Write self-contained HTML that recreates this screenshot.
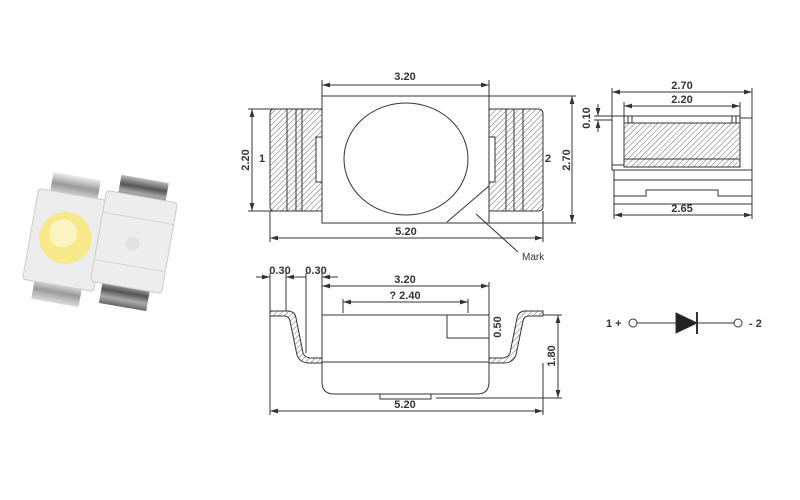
<!DOCTYPE html>
<html><head><style>body{margin:0;background:#fff}svg{display:block}text{font-family:"Liberation Sans",sans-serif;fill:#333}</style></head><body>
<svg width="800" height="500" viewBox="0 0 800 500" xmlns="http://www.w3.org/2000/svg">
<defs>
<pattern id="h" width="4" height="4" patternUnits="userSpaceOnUse" patternTransform="rotate(45)"><rect width="4" height="4" fill="#fff"/><line x1="0" y1="0" x2="0" y2="4" stroke="#666" stroke-width="1"/></pattern>
<marker id="a" viewBox="0 0 10 6" refX="10" refY="3" markerWidth="8" markerHeight="5" orient="auto-start-reverse"><path d="M0,0L10,3L0,6z" fill="#333"/></marker>
<linearGradient id="m" x1="0" x2="0" y1="0" y2="1"><stop offset="0" stop-color="#eee"/><stop offset=".5" stop-color="#999"/><stop offset="1" stop-color="#ddd"/></linearGradient>
<linearGradient id="m2" x1="0" x2="0" y1="0" y2="1"><stop offset="0" stop-color="#bbb"/><stop offset=".4" stop-color="#555"/><stop offset=".7" stop-color="#aaa"/><stop offset="1" stop-color="#666"/></linearGradient>
</defs>
<!-- photos -->
<g transform="rotate(10 66 240)">
<rect x="42" y="175" width="48" height="22" fill="url(#m)"/>
<rect x="42" y="282" width="48" height="22" fill="url(#m)"/>
<rect x="30" y="194" width="72" height="92" rx="3" fill="#ececec" stroke="#ccc"/>
<circle cx="65" cy="238" r="26" fill="#f7e98a"/>
<circle cx="62" cy="234" r="14" fill="#fbf3c0"/>
</g>
<g transform="rotate(10 134 242)">
<rect x="110" y="178" width="48" height="22" fill="url(#m2)"/>
<rect x="110" y="284" width="48" height="24" fill="url(#m2)"/>
<rect x="98" y="196" width="72" height="92" rx="3" fill="#ededed" stroke="#ccc"/>
<line x1="98" y1="218" x2="170" y2="218" stroke="#d5d5d5"/>
<line x1="98" y1="266" x2="170" y2="266" stroke="#d5d5d5"/>
<circle cx="133" cy="244" r="7" fill="#e2e2e2"/>
</g>
<g stroke="#333" fill="none" stroke-width="1">
<!-- top view -->
<path d="M274,109H322V211H274Q270,211 270,206V114Q270,109 274,109Z" fill="url(#h)"/>
<path d="M489,109H538Q543,109 543,114V206Q543,211 538,211H489Z" fill="url(#h)"/>
<line x1="287" y1="109" x2="287" y2="211"/><line x1="296" y1="109" x2="296" y2="211"/><line x1="302" y1="109" x2="302" y2="211"/>
<line x1="506" y1="109" x2="506" y2="211"/><line x1="514" y1="109" x2="514" y2="211"/><line x1="523" y1="109" x2="523" y2="211"/>
<rect x="316" y="137" width="6" height="45" fill="#fff"/><rect x="489" y="137" width="6" height="45" fill="#fff"/>
<rect x="322" y="96" width="167" height="127" fill="#fff"/>
<ellipse cx="406" cy="159" rx="62" ry="56"/>
<line x1="447" y1="222" x2="489" y2="186"/>
<line x1="476" y1="214" x2="518" y2="252"/>
<line x1="322" y1="80" x2="322" y2="96"/><line x1="489" y1="80" x2="489" y2="96"/>
<line x1="322" y1="85" x2="489" y2="85" marker-start="url(#a)" marker-end="url(#a)"/>
<line x1="270" y1="211" x2="270" y2="242"/><line x1="543" y1="211" x2="543" y2="242"/>
<line x1="270" y1="238" x2="543" y2="238" marker-start="url(#a)" marker-end="url(#a)"/>
<line x1="248" y1="109" x2="274" y2="109"/><line x1="248" y1="211" x2="274" y2="211"/>
<line x1="252" y1="109" x2="252" y2="211" marker-start="url(#a)" marker-end="url(#a)"/>
<line x1="489" y1="96" x2="576" y2="96"/><line x1="489" y1="223" x2="576" y2="223"/>
<line x1="572" y1="96" x2="572" y2="223" marker-start="url(#a)" marker-end="url(#a)"/>
<!-- side view -->
<path d="M270,311H289Q295,312 296,318L303,353Q305,358 311,358H322V363H309Q300,363 297,355L290,321Q289,316 284,316H270Z" fill="url(#h)"/>
<path d="M543,311H524Q518,312 517,318L510,353Q508,358 502,358H489V363H504Q513,363 516,355L523,321Q524,316 529,316H543Z" fill="url(#h)"/>
<path d="M322,315H489V382Q489,394 477,394H334Q322,394 322,382Z" fill="#fff"/>
<line x1="322" y1="362" x2="489" y2="362"/>
<path d="M380,394V399H431V394"/>
<rect x="447" y="315" width="42" height="23"/>
<line x1="270" y1="273" x2="270" y2="415"/><line x1="286" y1="273" x2="286" y2="311"/><line x1="306" y1="273" x2="306" y2="353"/><line x1="322" y1="273" x2="322" y2="315"/>
<line x1="256" y1="277" x2="270" y2="277" marker-end="url(#a)"/><line x1="286" y1="277" x2="306" y2="277" marker-start="url(#a)"/><line x1="322" y1="277" x2="338" y2="277" marker-start="url(#a)"/>
<line x1="489" y1="282" x2="489" y2="315"/>
<line x1="322" y1="286" x2="489" y2="286" marker-start="url(#a)" marker-end="url(#a)"/>
<line x1="343" y1="299" x2="343" y2="313"/><line x1="468" y1="299" x2="468" y2="313"/>
<line x1="343" y1="302" x2="468" y2="302" marker-start="url(#a)" marker-end="url(#a)"/>
<line x1="543" y1="315" x2="562" y2="315"/><line x1="436" y1="398" x2="562" y2="398"/>
<line x1="558" y1="315" x2="558" y2="398" marker-start="url(#a)" marker-end="url(#a)"/>
<line x1="543" y1="363" x2="543" y2="415"/>
<line x1="270" y1="411" x2="543" y2="411" marker-start="url(#a)" marker-end="url(#a)"/>
<!-- right view -->
<rect x="624" y="116" width="116" height="51" fill="url(#h)"/>
<rect x="624" y="116" width="116" height="7" fill="#fff"/>
<line x1="628" y1="116" x2="628" y2="123"/><line x1="632" y1="116" x2="632" y2="123"/><line x1="732" y1="116" x2="732" y2="123"/><line x1="736" y1="116" x2="736" y2="123"/>
<line x1="624" y1="159" x2="740" y2="159"/>
<path d="M612,118V165H624M612,165V170H614V204H752V170H752V118H740"/>
<line x1="612" y1="170" x2="752" y2="170"/>
<line x1="614" y1="180" x2="752" y2="180"/>
<path d="M614,196H646V190H718V196H752"/>
<line x1="612" y1="88" x2="612" y2="118"/><line x1="752" y1="88" x2="752" y2="118"/>
<line x1="612" y1="92" x2="752" y2="92" marker-start="url(#a)" marker-end="url(#a)"/>
<line x1="624" y1="102" x2="624" y2="116"/><line x1="740" y1="102" x2="740" y2="116"/>
<line x1="624" y1="106" x2="740" y2="106" marker-start="url(#a)" marker-end="url(#a)"/>
<line x1="594" y1="116" x2="624" y2="116"/><line x1="594" y1="120" x2="612" y2="120"/>
<line x1="598" y1="104" x2="598" y2="116" marker-end="url(#a)"/><line x1="598" y1="132" x2="598" y2="120" marker-end="url(#a)"/>
<line x1="614" y1="204" x2="614" y2="219"/><line x1="752" y1="204" x2="752" y2="219"/>
<line x1="614" y1="215" x2="752" y2="215" marker-start="url(#a)" marker-end="url(#a)"/>
<!-- diode -->
<circle cx="633" cy="323" r="4"/><circle cx="738" cy="323" r="4"/>
<line x1="637" y1="323" x2="676" y2="323"/><line x1="697" y1="323" x2="734" y2="323"/>
<path d="M676,313L697,323L676,333Z" fill="#222"/>
<line x1="697" y1="312" x2="697" y2="334" stroke-width="2"/>
</g>
<g font-size="11" font-weight="bold">
<text x="405" y="80" text-anchor="middle">3.20</text>
<text x="406" y="235" text-anchor="middle">5.20</text>
<text x="249" y="160" text-anchor="middle" transform="rotate(-90 249 160)">2.20</text>
<text x="570" y="160" text-anchor="middle" transform="rotate(-90 570 160)">2.70</text>
<text x="262" y="162" text-anchor="middle">1</text>
<text x="548" y="162" text-anchor="middle">2</text>
<text x="522" y="260" font-weight="normal" font-size="10">Mark</text>
<text x="280" y="274" text-anchor="middle">0.30</text>
<text x="316" y="274" text-anchor="middle">0.30</text>
<text x="405" y="283" text-anchor="middle">3.20</text>
<text x="405" y="299" text-anchor="middle">? 2.40</text>
<text x="501" y="327" text-anchor="middle" transform="rotate(-90 501 327)">0.50</text>
<text x="555" y="356" text-anchor="middle" transform="rotate(-90 555 356)">1.80</text>
<text x="405" y="408" text-anchor="middle">5.20</text>
<text x="682" y="89" text-anchor="middle">2.70</text>
<text x="682" y="103" text-anchor="middle">2.20</text>
<text x="590" y="118" text-anchor="middle" transform="rotate(-90 590 118)">0.10</text>
<text x="682" y="212" text-anchor="middle">2.65</text>
<text x="606" y="327">1 +</text>
<text x="749" y="327">- 2</text>
</g>
</svg>
</body></html>
